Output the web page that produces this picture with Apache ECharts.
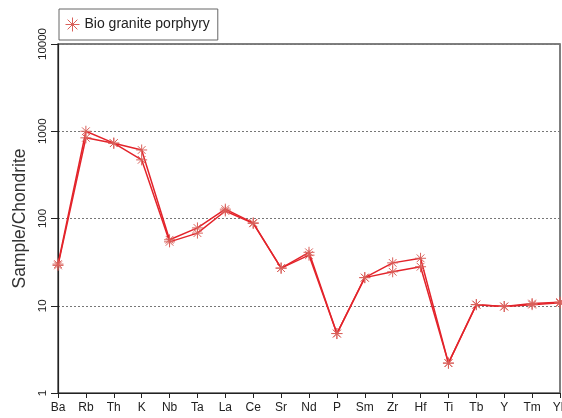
<!DOCTYPE html>
<html>
<head>
<meta charset="utf-8">
<script src="https://cdn.jsdelivr.net/npm/echarts@6/dist/echarts.min.js"></script>
<style>
  html, body { margin: 0; padding: 0; background: #fff; }
  #chart { width: 562px; height: 418px; }
</style>
</head>
<body>
<div id="chart"></div>
<script>
// Chondrite-normalised spider diagram, two samples of the same rock unit
const elements = ['Ba','Rb','Th','K','Nb','Ta','La','Ce','Sr','Nd','P','Sm','Zr','Hf','Ti','Tb','Y','Tm','Yb'];
const sampleA = [30, 1000, 730, 610, 57, 78, 128, 89, 27, 41, 4.8, 21, 31, 35, 2.2, 10.3, 9.8, 10.6, 11];
const sampleB = [29, 840, 730, 470, 54, 68, 122, 88, 27, 38, 4.8, 21, 24.5, 28, 2.2, 10.3, 9.8, 10.3, 10.8];
const yTicks = [1, 10, 100, 1000, 10000];
const seriesName = 'Bio granite porphyry';

// eight-armed asterisk marker
const asterisk = 'path://M0,-6L0,6M-6,0L6,0M-4.2,-4.2L4.2,4.2M-4.2,4.2L4.2,-4.2';
const lineRed = '#e3242b';
const markRed = '#d9605a';

const chart = echarts.init(document.getElementById('chart'));

function makeSeries(values) {
  return {
    name: seriesName,
    type: 'line',
    data: values,
    symbol: asterisk,
    symbolSize: 11,
    showAllSymbol: true,
    lineStyle: { color: lineRed, width: 1.5 },
    itemStyle: { color: 'rgba(0,0,0,0)', borderColor: markRed, borderWidth: 1 },
    emphasis: { disabled: true },
    z: 3
  };
}

chart.setOption({
  animation: false,
  backgroundColor: '#fff',
  textStyle: { fontFamily: 'Liberation Sans, Arial, sans-serif' },
  grid: {
    left: 58, top: 44, right: 2, bottom: 25,
    outerBoundsMode: 'none',
    containLabel: false,
    show: true, borderColor: '#555', borderWidth: 1.5, backgroundColor: 'transparent'
  },
  legend: {
    data: [{ name: seriesName, icon: asterisk }],
    left: 59, top: 9,
    itemWidth: 14, itemHeight: 14, itemGap: 8,
    padding: [8, 8, 8, 6],
    borderColor: '#666', borderWidth: 1,
    itemStyle: { color: 'rgba(0,0,0,0)', borderColor: markRed, borderWidth: 1 },
    lineStyle: { width: 0, opacity: 0 },
    textStyle: { fontSize: 14, color: '#222', fontFamily: 'Liberation Sans, Arial, sans-serif' }
  },
  xAxis: {
    type: 'category',
    data: elements,
    boundaryGap: false,
    axisLine: { lineStyle: { color: '#222', width: 1.2 } },
    axisTick: { show: true, alignWithLabel: true, length: 5, lineStyle: { color: '#222' } },
    axisLabel: { interval: 0, fontSize: 12, color: '#222', margin: 9 },
    splitLine: { show: false }
  },
  yAxis: {
    type: 'log',
    logBase: 10,
    min: yTicks[0],
    max: yTicks[yTicks.length - 1],
    name: 'Sample/Chondrite',
    nameLocation: 'middle',
    nameRotate: 90,
    nameGap: 29,
    nameTextStyle: { fontSize: 17.5, color: '#333' },
    axisLine: { show: true, lineStyle: { color: '#222', width: 1.2 } },
    axisTick: { show: true, length: 7, lineStyle: { color: '#222' } },
    axisLabel: { rotate: 90, fontSize: 11.5, color: '#222', margin: 9, formatter: v => String(v) },
    splitLine: { show: true, lineStyle: { color: '#777', type: [2, 2], width: 1 } },
    minorTick: { show: false }
  },
  series: [makeSeries(sampleA), makeSeries(sampleB)]
});
</script>
</body>
</html>
